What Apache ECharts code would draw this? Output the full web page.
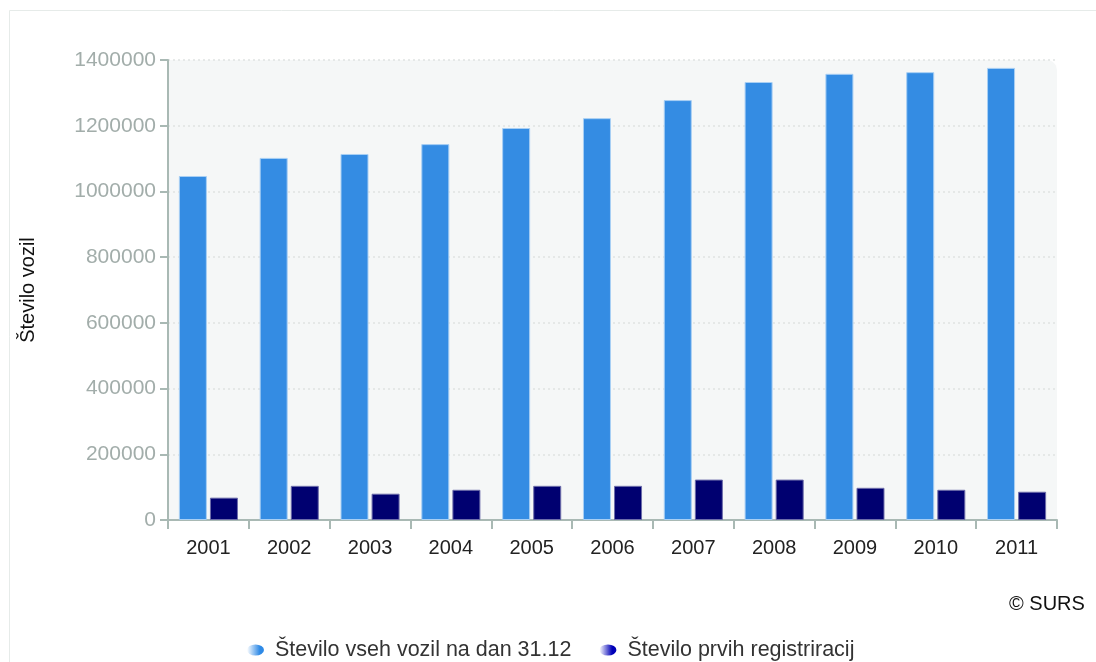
<!DOCTYPE html>
<html>
<head>
<meta charset="utf-8">
<script src="https://cdn.jsdelivr.net/npm/echarts@6/dist/echarts.min.js"></script>
<style>
  html, body { margin: 0; padding: 0; background: #ffffff; }
  #chart { width: 1096px; height: 662px; }
</style>
</head>
<body>
<div id="chart"></div>
<script>
// Vehicle counts in Slovenia, 2001–2011
const years = ['2001', '2002', '2003', '2004', '2005', '2006', '2007', '2008', '2009', '2010', '2011'];
const allVehicles = [1047000, 1102000, 1114000, 1144000, 1193000, 1223000, 1278000, 1333000, 1358000, 1363000, 1376000];
const firstRegistrations = [68000, 104000, 80000, 92000, 104000, 104000, 123000, 123000, 98000, 92000, 86000];
const seriesNames = ['Število vseh vozil na dan 31.12', 'Število prvih registriracij'];
const yTicks = { min: 0, max: 1400000, interval: 200000 };

const FONT = '"Liberation Sans", Arial, sans-serif';
const AXIS_COLOR = '#a9b9b4';

const ellipseIcon = 'path://M0,5.5 A8.5,5.5 0 1,1 17,5.5 A8.5,5.5 0 1,1 0,5.5 Z';
function iconGradient(c) {
  return new echarts.graphic.LinearGradient(0, 0, 1, 0, [
    { offset: 0, color: '#ffffff' },
    { offset: 0.75, color: c },
    { offset: 1, color: c }
  ]);
}

const chart = echarts.init(document.getElementById('chart'), null, { renderer: 'canvas' });

chart.setOption({
  animation: false,
  backgroundColor: '#ffffff',
  textStyle: { fontFamily: FONT },
  graphic: [
    {
      type: 'rect', z: -10, silent: true,
      shape: { x: 9.5, y: 10.5, width: 1200, height: 800 },
      style: { fill: 'none', stroke: '#e6ebe9', lineWidth: 1 }
    },
    {
      type: 'rect', z: -5, silent: true,
      shape: { x: 168, y: 60, width: 889, height: 460, r: [0, 10, 0, 0] },
      style: { fill: '#f5f7f7' }
    },
    {
      type: 'text', left: 1009, top: 594, silent: true,
      style: { text: '© SURS', font: '20px ' + FONT, fill: '#111111' }
    }
  ],
  grid: { left: 168, right: 39, top: 60, bottom: 142, containLabel: false },
  legend: {
    left: 242, top: 634,
    itemWidth: 17, itemHeight: 11, itemGap: 28,
    textStyle: { fontSize: 21.5, color: '#333333', fontFamily: FONT, padding: [0, 0, 0, 6] },
    data: [
      { name: seriesNames[0], icon: ellipseIcon, itemStyle: { color: iconGradient('#2f8ae6'), borderWidth: 0 } },
      { name: seriesNames[1], icon: ellipseIcon, itemStyle: { color: iconGradient('#0000b8'), borderWidth: 0 } }
    ]
  },
  xAxis: {
    type: 'category',
    data: years,
    axisLine: { lineStyle: { color: AXIS_COLOR, width: 2 } },
    axisTick: { show: true, length: 9, lineStyle: { color: AXIS_COLOR, width: 2 } },
    axisLabel: { color: '#222222', fontSize: 20, margin: 18, fontFamily: FONT },
    splitLine: { show: false }
  },
  yAxis: {
    type: 'value',
    min: yTicks.min, max: yTicks.max, interval: yTicks.interval,
    name: 'Število vozil',
    nameLocation: 'middle',
    nameRotate: 90,
    nameGap: 130,
    nameTextStyle: { color: '#111111', fontSize: 20, fontFamily: FONT },
    axisLine: { show: true, lineStyle: { color: AXIS_COLOR, width: 2 } },
    axisTick: { show: true, length: 8, lineStyle: { color: AXIS_COLOR, width: 2 } },
    axisLabel: {
      color: '#a2adaa', fontSize: 21, margin: 12, fontFamily: FONT,
      formatter: (v) => String(v)
    },
    splitLine: { show: true, lineStyle: { color: '#dfe4e2', type: [2, 3], width: 1.5 } }
  },
  series: [
    {
      name: seriesNames[0],
      type: 'bar',
      data: allVehicles,
      barWidth: 28,
      barGap: '11%',
      itemStyle: { color: '#348ce3', borderColor: '#a8cff4', borderWidth: 1 }
    },
    {
      name: seriesNames[1],
      type: 'bar',
      data: firstRegistrations,
      barWidth: 28,
      itemStyle: { color: '#000070', borderColor: '#6d6daa', borderWidth: 1 }
    }
  ]
});
</script>
</body>
</html>
